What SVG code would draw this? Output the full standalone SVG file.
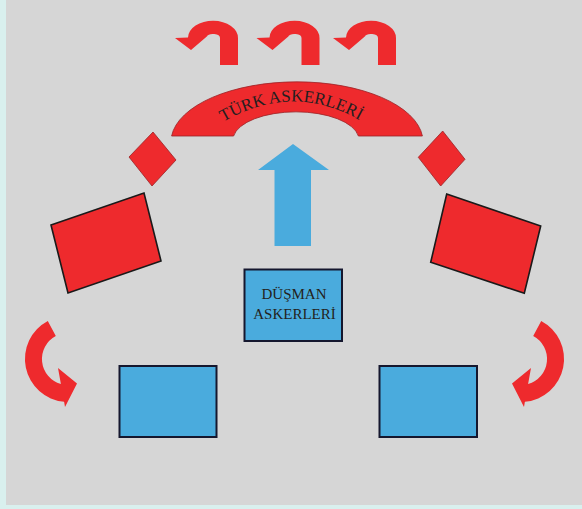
<svg xmlns="http://www.w3.org/2000/svg" xmlns:xlink="http://www.w3.org/1999/xlink" width="582" height="509" viewBox="0 0 582 509">
<style>
.red{fill:#ee2a2d}
.redrect{fill:#ee2a2d;stroke:#1a1a1a;stroke-width:1.6;stroke-linejoin:miter}
.redthin{fill:#ee2a2d;stroke:#9a2226;stroke-width:0.8}
.blue{fill:#4aabdd}
.bluerect{fill:#4aabdd;stroke:#15172e;stroke-width:2}
.lbl{font-family:"Liberation Serif","Times New Roman",serif;fill:#231f20}
</style>
<defs>
<path id="turn" class="red" d="M220,65 L220,38 A7 4 0 0 0 206.5,36.5 L208,35.5 L191,50 L175,38 L188,37.5 A25 17 0 0 1 238,38 L238,65 Z"/>
<path id="side" class="red" d="M47.8,321 A43 43 0 0 0 64.1,401.8 L65,407 L77,383.5 L58,368 L60.9,384 A26 26 0 0 1 55.8,336 Z"/>
<path id="archtext" d="M205,134 Q292,70 378,132"/>
</defs>
<rect x="0" y="0" width="582" height="509" fill="#d9f0ee"/>
<rect x="6" y="0" width="576" height="505" fill="#d6d6d6"/>

<g id="connectors">
<g id="top-turn-arrows">
<use xlink:href="#turn"/>
<use xlink:href="#turn" transform="translate(81.5,0)"/>
<use xlink:href="#turn" transform="translate(158,0)"/>
</g>
<path id="advance-arrow" class="blue" d="M293,144 L329,170 L311,170 L311,246 L274.5,246 L274.5,170 L258,170 Z"/>
<use id="left-flank-arrow" xlink:href="#side"/>
<use id="right-flank-arrow" xlink:href="#side" transform="translate(589,0) scale(-1,1)"/>
</g>

<g id="turk-askerleri">
<path class="redthin" d="M171.6,136 A126 60 0 0 1 422.4,136 L358.4,136 A63 28 0 0 0 233.6,136 Z"/>
<text class="lbl" font-size="17"><textPath xlink:href="#archtext" startOffset="50%" text-anchor="middle">TÜRK ASKERLERİ</textPath></text>
</g>

<g id="left-diamond"><polygon class="redthin" points="153,132 176,160 152,186 129,157"/></g>
<g id="right-diamond"><polygon class="redthin" points="442.7,131 465,159.3 440.7,186 418.3,157.3"/></g>

<g id="left-red-unit"><polygon class="redrect" points="51,225 144,193 161,261 68,293"/></g>
<g id="right-red-unit"><polygon class="redrect" points="446.7,194 540.7,226 524.3,293.3 430.7,262.3"/></g>

<g id="dusman-askerleri">
<rect class="bluerect" x="244.5" y="269.5" width="97.5" height="71.5"/>
<text class="lbl" font-size="15" text-anchor="middle"><tspan x="294" y="299">DÜŞMAN</tspan><tspan x="294.5" y="319">ASKERLERİ</tspan></text>
</g>

<g id="left-blue-unit"><rect class="bluerect" x="119.5" y="366" width="97" height="71"/></g>
<g id="right-blue-unit"><rect class="bluerect" x="379.5" y="366" width="97.5" height="71"/></g>
</svg>
